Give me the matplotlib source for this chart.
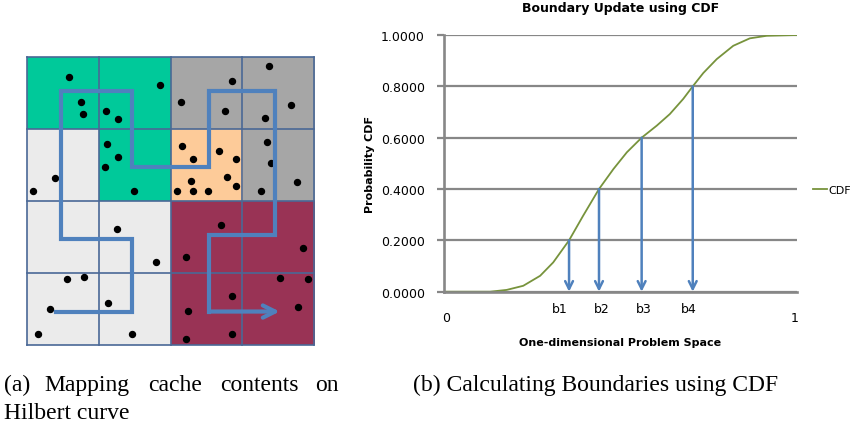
import numpy as np
import matplotlib.pyplot as plt
from matplotlib.colors import ListedColormap

# ---- panel (a): 4x4 cells, colour group per cell (row 0 at top)
cell_groups = [
    [0, 0, 1, 1],
    [2, 0, 3, 1],
    [2, 2, 4, 4],
    [2, 2, 4, 4],
]
group_colors = ["#00c99a", "#a6a6a6", "#ebebeb", "#fdcb99", "#993355"]

# Hilbert curve path (cell units, y downwards)
curve_x = [0.41, 1.46, 1.46, 0.47, 0.47, 1.46, 1.46, 2.53, 2.53, 3.46, 3.46, 2.53, 2.53, 3.56]
curve_y = [3.54, 3.54, 2.53, 2.53, 0.47, 0.47, 1.53, 1.53, 0.47, 0.47, 2.48, 2.48, 3.54, 3.54]

# cache contents (cell units)
dots_x = [0.58, 1.86, 0.76, 0.78, 1.10, 1.27, 2.85, 2.14, 2.76, 3.37, 3.68, 3.32,
          1.11, 1.27, 1.09, 1.49, 0.39, 0.08, 2.16, 2.31, 2.67, 2.91, 2.79, 2.29,
          2.09, 2.32, 2.52, 2.91, 3.34, 3.40, 3.76, 3.26, 1.25, 1.80, 2.70, 2.21,
          3.84, 0.56, 0.79, 0.32, 1.13, 0.15, 1.46, 3.53, 3.91, 2.85, 2.25, 3.77,
          2.21, 2.85]
dots_y = [0.27, 0.39, 0.62, 0.79, 0.74, 0.86, 0.33, 0.62, 0.74, 0.12, 0.66, 0.85,
          1.21, 1.39, 1.53, 1.86, 1.68, 1.86, 1.24, 1.42, 1.30, 1.41, 1.66, 1.72,
          1.86, 1.86, 1.86, 1.79, 1.18, 1.47, 1.74, 1.86, 2.39, 2.85, 2.33, 2.78,
          2.65, 3.09, 3.06, 3.50, 3.42, 3.85, 3.85, 3.07, 3.09, 3.33, 3.53, 3.47,
          3.92, 3.85]

# ---- panel (b): CDF curve
cdf_x = [0.0, 0.130, 0.177, 0.224, 0.272, 0.309, 0.354, 0.394, 0.439, 0.480, 0.518,
         0.560, 0.603, 0.640, 0.678, 0.705, 0.735, 0.773, 0.820, 0.867, 0.915, 1.0]
cdf_y = [0.0, 0.0, 0.007, 0.023, 0.062, 0.114, 0.200, 0.296, 0.400, 0.478, 0.543,
         0.600, 0.647, 0.692, 0.751, 0.800, 0.852, 0.906, 0.958, 0.987, 0.997, 1.0]

bound_x = [0.354, 0.439, 0.560, 0.705]
bound_p = [0.2, 0.4, 0.6, 0.8]
bound_labels = ["b1", "b2", "b3", "b4"]
bound_label_x = [0.328, 0.447, 0.565, 0.695]
yticks = [0.0, 0.2, 0.4, 0.6, 0.8, 1.0]

blue = "#4f81bd"
gridc = "#878787"

fig = plt.figure(figsize=(8.5, 4.27), dpi=100)

# ---------------- (a)
ax1 = fig.add_axes([25 / 850, 1 - 347 / 427, 291 / 850, 290 / 427])
ax1.imshow(np.array(cell_groups), cmap=ListedColormap(group_colors), vmin=-0.5, vmax=4.5,
           extent=(0, 4, 4, 0), interpolation="nearest")
for k in range(5):
    ax1.plot([k, k], [0, 4], color="#4a6896", lw=1.2)
    ax1.plot([0, 4], [k, k], color="#4a6896", lw=1.2)
ax1.plot(dots_x, dots_y, "o", color="k", ms=4.3)
ax1.plot(curve_x[:-1], curve_y[:-1], color=blue, lw=3, solid_joinstyle="miter")
ax1.annotate("", xy=(curve_x[-1], curve_y[-1]), xytext=(curve_x[-2] - 0.02, curve_y[-2]),
             arrowprops=dict(arrowstyle="->", color=blue, lw=3, mutation_scale=22))
ax1.set_xlim(-0.02, 4.02)
ax1.set_ylim(4.02, -0.02)
ax1.axis("off")

# ---------------- (b)
ax2 = fig.add_axes([444.3 / 850, 1 - 292.7 / 427, 352.4 / 850, 256.7 / 427])
ax2.plot(cdf_x, cdf_y, color="#77933c", lw=1.3, label="CDF")
for bx, bp in zip(bound_x, bound_p):
    ax2.annotate("", xy=(bx, 0.0), xytext=(bx, bp),
                 arrowprops=dict(arrowstyle="->", color=blue, lw=1.8, mutation_scale=14,
                                 shrinkA=0, shrinkB=0))
ax2.set_xlim(0, 1)
ax2.set_ylim(0, 1)
ax2.set_yticks(yticks)
ax2.set_yticklabels([f"{v:.4f}" for v in yticks], fontsize=9)
ax2.set_xticks([])
ax2.grid(axis="y", color=gridc, lw=1.6)
ax2.tick_params(axis="y", length=5, width=1.6, color=gridc, pad=9)
for s in ["top", "right"]:
    ax2.spines[s].set_visible(False)
for s in ["left", "bottom"]:
    ax2.spines[s].set_color(gridc)
    ax2.spines[s].set_linewidth(1.9)
ax2.set_axisbelow(True)

ax2.set_title("Boundary Update using CDF", fontsize=9, fontweight="bold", pad=17)
ax2.set_ylabel("Probability CDF", fontsize=8, fontweight="bold", labelpad=4)
ax2.text(0.5, -0.195, "One-dimensional Problem Space", transform=ax2.transAxes,
         ha="center", va="center", fontsize=8, fontweight="bold")
for lx, lab in zip(bound_label_x, bound_labels):
    ax2.text(lx, -0.065, lab, transform=ax2.get_xaxis_transform(), ha="center",
             va="center", fontsize=9)
ax2.text(0.005, -0.1, "0", transform=ax2.transAxes, ha="center", va="center", fontsize=9)
ax2.text(0.995, -0.1, "1", transform=ax2.transAxes, ha="center", va="center", fontsize=9)
ax2.legend(loc="center left", bbox_to_anchor=(1.035, 0.396), frameon=False, fontsize=8,
           handlelength=1.2, handletextpad=0.1, borderaxespad=0)

# ---------------- captions
cap = dict(family="Liberation Serif", fontsize=17, va="baseline")
words_a = ["(a)", "Mapping", "cache", "contents", "on"]
words_a_x = [4, 44, 148, 220, 315]
for wx, w in zip(words_a_x, words_a):
    fig.text(wx / 850, 1 - 391 / 427, w, **cap)
fig.text(4 / 850, 1 - 419 / 427, "Hilbert curve", **cap)
fig.text(413 / 850, 1 - 391 / 427, "(b) Calculating Boundaries using CDF", **cap)

fig.savefig("out.png", dpi=100)
